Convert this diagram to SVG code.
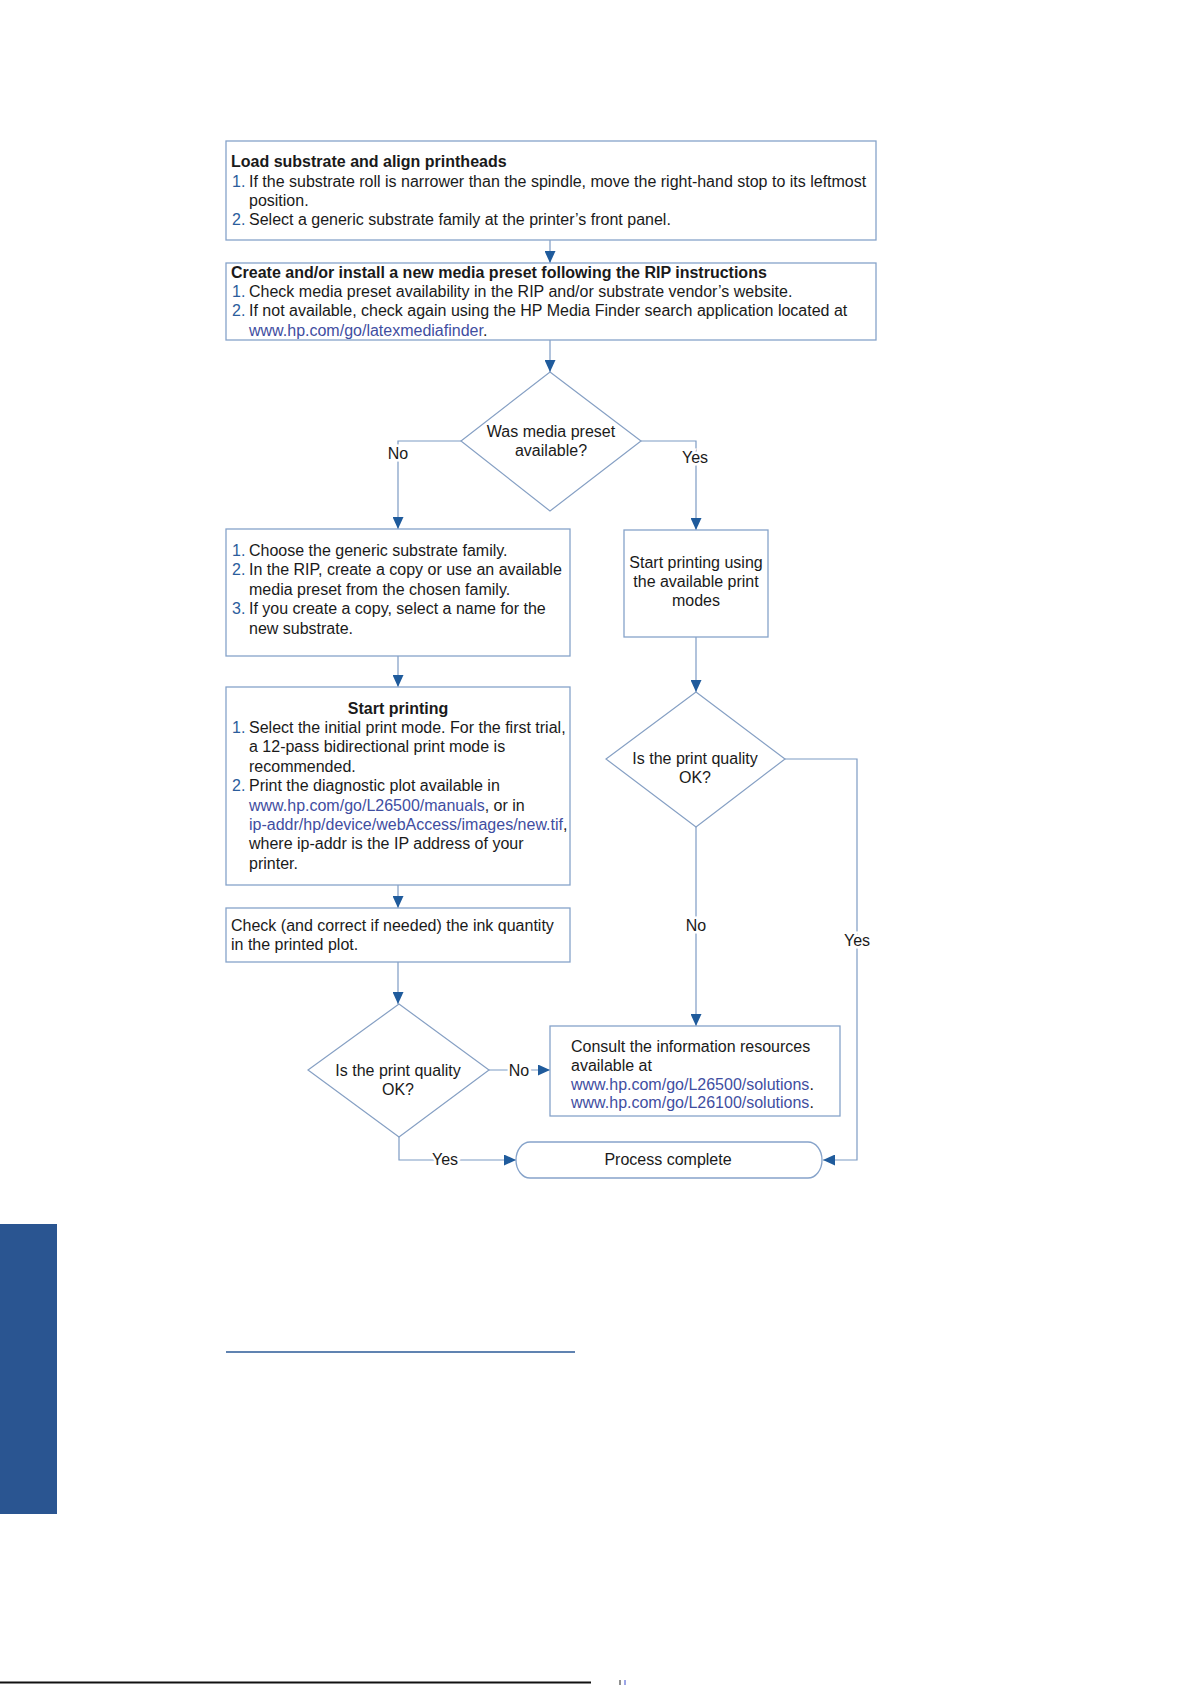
<svg xmlns="http://www.w3.org/2000/svg" width="1191" height="1685" viewBox="0 0 1191 1685">
<style>
text{font-family:"Liberation Sans",Arial,sans-serif;font-size:16px;fill:#1a1a1a}
.b{font-weight:bold}
.n{fill:#2b5d9c}
.l{fill:#3f4ea1}
.c{text-anchor:middle}
.box{fill:#fff;stroke:#86a3ca;stroke-width:1.3}
.dia{fill:#fff;stroke:#86a0c4;stroke-width:1.2}
.con{fill:none;stroke:#7d9bc4;stroke-width:1.2}
.arr{marker-end:url(#ah)}
.lab{text-anchor:middle;stroke:#fff;stroke-width:5;paint-order:stroke}
</style>
<defs>
<marker id="ah" markerUnits="userSpaceOnUse" markerWidth="12" markerHeight="11" refX="12" refY="5.5" orient="auto">
<path d="M0,0 L12,5.5 L0,11 z" fill="#1f5b9c"/>
</marker>
</defs>
<rect width="1191" height="1685" fill="#fff"/>

<g id="connectors">
<path class="con arr" d="M550,240 V263"/>
<path class="con arr" d="M550,340 V372"/>
<path class="con arr" d="M461,441 H398 V529"/>
<path class="con arr" d="M641,441 H696 V530"/>
<path class="con arr" d="M398,656 V687"/>
<path class="con arr" d="M696,637 V692"/>
<path class="con arr" d="M398,885 V908"/>
<path class="con arr" d="M398,962 V1004"/>
<path class="con arr" d="M696,827 V1026"/>
<path class="con arr" d="M785,759 H857 V1160 H823"/>
<path class="con arr" d="M489,1070 H550"/>
<path class="con arr" d="M399,1137 V1160 H516"/>
<text class="lab" x="398" y="459">No</text>
<text class="lab" x="695" y="463">Yes</text>
<text class="lab" x="696" y="931">No</text>
<text class="lab" x="857" y="946">Yes</text>
<text class="lab" x="519" y="1076">No</text>
<text class="lab" x="445" y="1165">Yes</text>
</g>

<g id="n1">
<rect class="box" x="226" y="141" width="650" height="99"/>
<text class="b" x="231" y="166.5">Load substrate and align printheads</text>
<text class="n" x="232" y="187">1.</text>
<text x="249" y="187">If the substrate roll is narrower than the spindle, move the right-hand stop to its leftmost</text>
<text x="249" y="205.8">position.</text>
<text class="n" x="232" y="224.5">2.</text>
<text x="249" y="224.5">Select a generic substrate family at the printer’s front panel.</text>
</g>

<g id="n2">
<rect class="box" x="226" y="263" width="650" height="77"/>
<text class="b" x="231" y="278">Create and/or install a new media preset following the RIP instructions</text>
<text class="n" x="232" y="297">1.</text>
<text x="249" y="297">Check media preset availability in the RIP and/or substrate vendor’s website.</text>
<text class="n" x="232" y="316">2.</text>
<text x="249" y="316">If not available, check again using the HP Media Finder search application located at</text>
<text x="249" y="335.5"><tspan class="l">www.hp.com/go/latexmediafinder</tspan>.</text>
</g>

<g id="d1">
<polygon class="dia" points="550,372 641,441 550,511 461,441"/>
<text class="c" x="551" y="437">Was media preset</text>
<text class="c" x="551" y="455.5">available?</text>
</g>

<g id="n3">
<rect class="box" x="226" y="529" width="344" height="127"/>
<text class="n" x="232" y="556">1.</text>
<text x="249" y="556">Choose the generic substrate family.</text>
<text class="n" x="232" y="575.4">2.</text>
<text x="249" y="575.4">In the RIP, create a copy or use an available</text>
<text x="249" y="594.8">media preset from the chosen family.</text>
<text class="n" x="232" y="614.2">3.</text>
<text x="249" y="614.2">If you create a copy, select a name for the</text>
<text x="249" y="633.6">new substrate.</text>
</g>

<g id="n4">
<rect class="box" x="624" y="530" width="144" height="107"/>
<text class="c" x="696" y="568">Start printing using</text>
<text class="c" x="696" y="587">the available print</text>
<text class="c" x="696" y="606">modes</text>
</g>

<g id="n5">
<rect class="box" x="226" y="687" width="344" height="198"/>
<text class="b c" x="398" y="714">Start printing</text>
<text class="n" x="232" y="733">1.</text>
<text x="249" y="733">Select the initial print mode. For the first trial,</text>
<text x="249" y="752.4">a 12-pass bidirectional print mode is</text>
<text x="249" y="771.8">recommended.</text>
<text class="n" x="232" y="791.2">2.</text>
<text x="249" y="791.2">Print the diagnostic plot available in</text>
<text x="249" y="810.6"><tspan class="l">www.hp.com/go/L26500/manuals</tspan>, or in</text>
<text x="249" y="830"><tspan class="l">ip-addr/hp/device/webAccess/images/new.tif</tspan>,</text>
<text x="249" y="849.4">where ip-addr is the IP address of your</text>
<text x="249" y="868.8">printer.</text>
</g>

<g id="d2">
<polygon class="dia" points="696,692 785,759 696,827 606,759"/>
<text class="c" x="695" y="763.5">Is the print quality</text>
<text class="c" x="695" y="782.5">OK?</text>
</g>

<g id="n6">
<rect class="box" x="226" y="908" width="344" height="54"/>
<text x="231" y="930.5">Check (and correct if needed) the ink quantity</text>
<text x="231" y="949.5">in the printed plot.</text>
</g>

<g id="d3">
<polygon class="dia" points="399,1004 489,1070 399,1137 308,1070"/>
<text class="c" x="398" y="1076">Is the print quality</text>
<text class="c" x="398" y="1094.5">OK?</text>
</g>

<g id="n7">
<rect class="box" x="550" y="1026" width="290" height="90"/>
<text x="571" y="1052">Consult the information resources</text>
<text x="571" y="1070.5">available at</text>
<text x="571" y="1090"><tspan class="l">www.hp.com/go/L26500/solutions</tspan>.</text>
<text x="571" y="1107.5"><tspan class="l">www.hp.com/go/L26100/solutions</tspan>.</text>
</g>

<g id="t1">
<rect class="box" x="516" y="1142" width="306" height="36" rx="14" ry="18"/>
<text class="c" x="668" y="1164.5">Process complete</text>
</g>

<rect x="0" y="1224" width="57" height="290" fill="#2a5591"/>
<line x1="226" y1="1352" x2="575" y2="1352" stroke="#2b5a97" stroke-width="1.5"/>
<line x1="0" y1="1682.5" x2="591" y2="1682.5" stroke="#111" stroke-width="2"/>
<line x1="620" y1="1680" x2="620" y2="1685" stroke="#222" stroke-width="1"/>
<line x1="625" y1="1680" x2="625" y2="1685" stroke="#3a4fd0" stroke-width="1"/>
</svg>
